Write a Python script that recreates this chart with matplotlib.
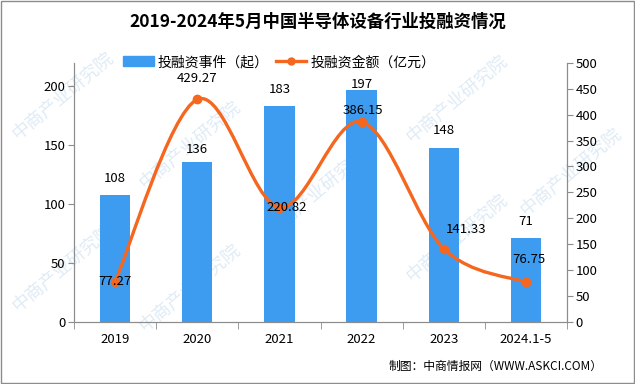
import numpy as np
import matplotlib
matplotlib.use('Agg')
import matplotlib.pyplot as plt
from matplotlib.path import Path
from matplotlib.patches import PathPatch, Rectangle
from matplotlib.lines import Line2D

plt.rcParams['font.family'] = ['Noto Sans CJK SC', 'DejaVu Sans']

# data
years = ['2019', '2020', '2021', '2022', '2023', '2024.1-5']
events = [108, 136, 183, 197, 148, 71]
amount = [77.27, 429.27, 220.82, 386.15, 141.33, 76.75]
amount_labels = ['77.27', '429.27', '220.82', '386.15', '141.33', '76.75']

bar_color = '#3d9cf0'
line_color = '#f5661f'
axis_color = '#8c8c8c'

fig = plt.figure(figsize=(6.35, 3.84), dpi=100)
ax = fig.add_axes([0.1165, 0.1615, 0.7765, 0.675])
ax2 = ax.twinx()

x = np.arange(len(years))
ax.bar(x, events, width=0.37, color=bar_color, zorder=2)
ax.set_ylim(0, 220)
ax.set_yticks([0, 50, 100, 150, 200])
ax.set_xlim(-0.5, len(years) - 0.5)
ax.set_xticks(x)
ax.set_xticklabels(years)
ax.set_xticks(np.arange(len(years) + 1) - 0.5, minor=True)
ax.tick_params(axis='x', which='major', length=0, pad=8, labelsize=9.5)
ax.tick_params(axis='x', which='minor', length=5, color=axis_color)
ax.tick_params(axis='y', length=4, color=axis_color, labelsize=9.5, pad=2)

ax2.set_ylim(0, 500)
ax2.set_yticks(np.arange(0, 501, 50))
ax2.tick_params(axis='y', length=4, color=axis_color, labelsize=9.5, pad=2)

for a in (ax, ax2):
    a.spines['top'].set_visible(False)
    for s in ('left', 'right', 'bottom'):
        a.spines[s].set_color(axis_color)
ax.set_zorder(1)
ax2.set_zorder(2)
ax.patch.set_visible(False)

# smooth line (bezier through the points, Excel style)
pts = np.column_stack([x, amount])
verts = [tuple(pts[0])]
codes = [Path.MOVETO]
n = len(pts)
for i in range(n - 1):
    p0 = pts[max(i - 1, 0)]
    p1 = pts[i]
    p2 = pts[i + 1]
    p3 = pts[min(i + 2, n - 1)]
    c1 = p1 + (p2 - p0) / 6.0
    c2 = p2 - (p3 - p1) / 6.0
    verts += [tuple(c1), tuple(c2), tuple(p2)]
    codes += [Path.CURVE4] * 3
ax2.add_patch(PathPatch(Path(verts, codes), fill=False, edgecolor=line_color,
                        lw=2.4, capstyle='round', zorder=3))
ax2.plot(x, amount, 'o', color=line_color, ms=6, zorder=4)

# bar labels
bar_off = [12, 9, 12, 4, 12, 12]
for xi, v, o in zip(x, events, bar_off):
    ax.annotate(str(v), (xi, v), xytext=(0, o), textcoords='offset points',
                ha='center', va='center', fontsize=9.5, zorder=5)

# line labels
line_off = [(0, 0), (0, 15), (5, 0), (1, 8), (16, 14), (2, 16)]
for xi, v, lab, (dx, dy) in zip(x, amount, amount_labels, line_off):
    ax2.annotate(lab, (xi, v), xytext=(dx, dy), textcoords='offset points',
                 ha='center', va='center', fontsize=9.5, zorder=5)

# legend
handles = [Rectangle((0, 0), 1, 1, color=bar_color),
           Line2D([], [], color=line_color, lw=2.4, marker='o', ms=5)]
fig.legend(handles, ['投融资事件（起）', '投融资金额（亿元）'], loc='center',
           bbox_to_anchor=(0.44, 0.838), ncol=2, frameon=False, fontsize=10,
           handlelength=2.2, handletextpad=0.3, columnspacing=0.5)

fig.text(0.5, 0.943, '2019-2024年5月中国半导体设备行业投融资情况', ha='center',
         va='center', fontsize=12.5, fontweight='bold')
fig.text(0.612, 0.045, '制图：中商情报网（WWW.ASKCI.COM）', ha='left', va='center',
         fontsize=8.5)

# watermarks
for wx, wy in [(0.1, 0.75), (0.3, 0.62), (0.5, 0.5), (0.72, 0.38),
               (0.1, 0.3), (0.3, 0.25), (0.72, 0.74), (0.9, 0.55)]:
    fig.text(wx, wy, '中商产业研究院', rotation=40, ha='center', va='center',
             fontsize=13, color='#c9def0', alpha=0.6, zorder=0)

fig.add_artist(Rectangle((0.001, 0.002), 0.997, 0.996, transform=fig.transFigure,
                         fill=False, edgecolor=axis_color, lw=1))

fig.savefig('out.png', dpi=100)
